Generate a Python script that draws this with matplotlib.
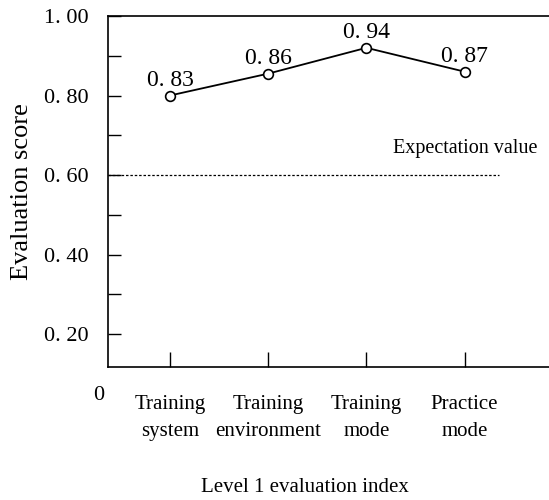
import matplotlib.pyplot as plt
from matplotlib.ticker import FixedLocator

# data
categories = ['Training\nsystem', 'Training\nenvironment', 'Training\nmode', 'Practice\nmode']
scores = [0.80, 0.855, 0.92, 0.86]          # where the points sit
score_labels = ['0. 83', '0. 86', '0. 94', '0. 87']  # what the labels say
expectation = 0.60
yticks = [0.2, 0.4, 0.6, 0.8, 1.0]
ytick_labels = ['0. 20', '0. 40', '0. 60', '0. 80', '1. 00']

plt.rcParams['font.family'] = ['Liberation Serif', 'DejaVu Serif']

fig = plt.figure(figsize=(5.49, 5.0), dpi=100)
ax = fig.add_axes((0.197, 0.266, 0.803, 0.702))

x = list(range(1, len(categories) + 1))
ax.plot(x, scores, color='black', linewidth=1.3, marker='o', markersize=7,
        markerfacecolor='white', markeredgecolor='black', markeredgewidth=1.2, zorder=3)

# value labels above each point
for xi, yi, lab in zip(x, scores, score_labels):
    ax.text(xi, yi + 0.012, lab, ha='center', va='bottom', fontsize=17)

# expectation line
ax.plot([0.37, 4.35], [expectation, expectation], color='black', linestyle=(0, (2, 1.5)),
        linewidth=0.9)
ax.text(4.74, expectation + 0.043, 'Expectation value', ha='right', va='bottom', fontsize=14.5)

ax.set_xlim(0.37, 4.86)
ax.set_ylim(0.117, 1.0)

ax.set_yticks(yticks)
ax.set_yticklabels(ytick_labels, fontsize=16)
ax.yaxis.set_minor_locator(FixedLocator([0.3, 0.5, 0.7, 0.9]))
ax.tick_params(axis='y', which='both', direction='in', length=9, width=1, pad=14)

ax.set_xticks(x)
ax.set_xticklabels(categories, fontsize=15, linespacing=1.6)
ax.tick_params(axis='x', direction='in', length=11, width=1, pad=20)

ax.spines['right'].set_visible(False)
for s in ['left', 'top', 'bottom']:
    ax.spines[s].set_linewidth(1.2)

ax.set_ylabel('Evaluation score', fontsize=19)
ax.yaxis.set_label_coords(-0.17, 0.5)
ax.set_xlabel('Level 1 evaluation index', fontsize=15)
ax.xaxis.set_label_coords(0.447, -0.316)

# origin label
fig.text(99 / 549, 1 - 395 / 500, '0', ha='center', va='center', fontsize=16)

fig.savefig('out.png', dpi=100)
